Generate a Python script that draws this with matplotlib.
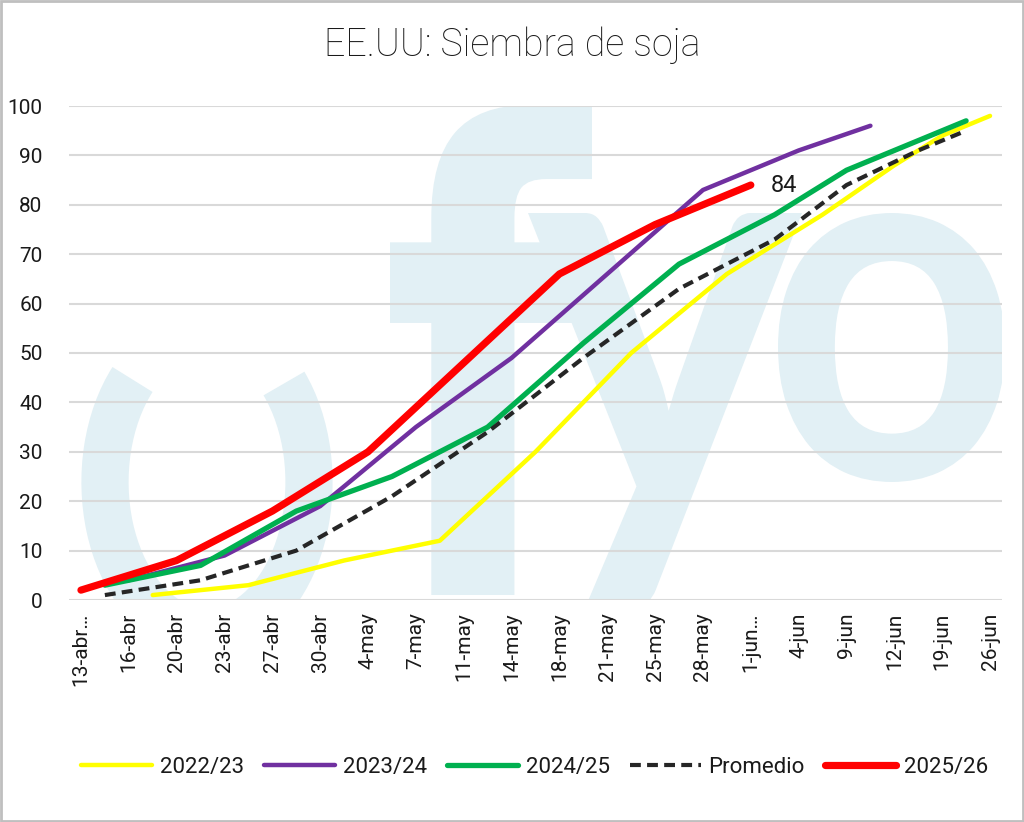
import matplotlib
matplotlib.use("Agg")
import matplotlib.pyplot as plt
from matplotlib.font_manager import FontProperties
from matplotlib.patches import Arc, PathPatch, Rectangle
from matplotlib.textpath import TextPath
from matplotlib.transforms import Affine2D, IdentityTransform

plt.rcParams["font.family"] = ["Roboto", "DejaVu Sans"]

W, H, DPI = 1024, 822, 100

# eje de categorias: union de las fechas semanales de las cuatro campañas
CATEGORIAS = [
    "13-abr…", "14-abr", "16-abr", "17-abr", "20-abr", "21-abr", "23-abr", "24-abr",
    "27-abr", "28-abr", "30-abr", "1-may", "4-may", "5-may", "7-may", "8-may",
    "11-may", "12-may", "14-may", "15-may", "18-may", "19-may", "21-may", "22-may",
    "25-may", "26-may", "28-may", "29-may", "1-jun…", "2-jun", "4-jun", "5-jun",
    "9-jun", "11-jun", "12-jun", "16-jun", "19-jun", "23-jun", "26-jun",
]

fechas_2022 = ["17-abr", "24-abr", "1-may", "8-may", "15-may", "22-may", "29-may",
               "5-jun", "12-jun", "19-jun", "26-jun"]
siembra_2022 = [1, 3, 8, 12, 30, 50, 66, 78, 88, 94, 98]

fechas_2023 = ["16-abr", "23-abr", "30-abr", "7-may", "14-may", "21-may", "28-may",
               "4-jun", "11-jun"]
siembra_2023 = [4, 9, 19, 35, 49, 66, 83, 91, 96]

fechas_2024 = ["14-abr", "21-abr", "28-abr", "5-may", "12-may", "19-may", "26-may",
               "2-jun", "9-jun", "16-jun", "23-jun"]
siembra_2024 = [3, 7, 18, 25, 35, 52, 68, 78, 87, 93, 97]
promedio = [1, 4, 10, 21, 34, 49, 63, 73, 84, 91, 95]

fechas_2025 = ["13-abr…", "20-abr", "27-abr", "4-may", "11-may", "18-may", "25-may", "1-jun…"]
siembra_2025 = [2, 8, 18, 30, 48, 66, 76, 84]

SERIES = [
    ("2022/23", fechas_2022, siembra_2022, "#ffff00", 3.2, "-"),
    ("2023/24", fechas_2023, siembra_2023, "#7030a0", 3.2, "-"),
    ("2024/25", fechas_2024, siembra_2024, "#00b050", 3.8, "-"),
    ("Promedio", fechas_2024, promedio, "#262626", 3.0, "--"),
    ("2025/26", fechas_2025, siembra_2025, "#ff0000", 5.2, "-"),
]

WATERMARK = "#e2f0f5"


def px_box_glyph(ax, char, box, prop):
    # encaja un glifo en una caja (x0, y0, x1, y1) en pixeles medidos desde arriba
    path = TextPath((0, 0), char, size=100, prop=prop)
    ext = path.get_extents()
    x0, y0, x1, y1 = box
    sx = (x1 - x0) / ext.width
    sy = (y1 - y0) / ext.height
    tr = Affine2D().translate(-ext.x0, -ext.y0).scale(sx, sy).translate(x0, H - y1)
    patch = PathPatch(tr.transform_path(path), facecolor=WATERMARK, edgecolor="none",
                      transform=IdentityTransform(), zorder=0)
    ax.add_artist(patch)
    patch.set_clip_box(ax.bbox)


def draw_watermark(ax):
    bold = FontProperties(family="Lato", weight="bold")
    px_box_glyph(ax, "f", (390, 105, 592, 595), FontProperties(family="DejaVu Sans", weight="bold"))
    px_box_glyph(ax, "y", (528, 213, 802, 605), bold)
    px_box_glyph(ax, "o", (778, 213, 1005, 482), bold)
    for t1, t2 in ((126, 262), (-82, 52)):
        arc = Arc((207, H - 482), 204, 300, theta1=t1, theta2=t2, color=WATERMARK,
                  lw=34, transform=IdentityTransform(), zorder=0, capstyle="butt")
        ax.add_artist(arc)
        arc.set_clip_box(ax.bbox)


fig = plt.figure(figsize=(W / DPI, H / DPI), dpi=DPI)
ax = fig.add_axes([69 / W, 1 - 600 / H, (1002 - 69) / W, (600 - 106) / H])
draw_watermark(ax)

for nombre, fechas, valores, color, lw, ls in SERIES:
    xs = [CATEGORIAS.index(f) for f in fechas]
    line, = ax.plot(xs, valores, color=color, lw=lw, ls=ls, label=nombre, zorder=3,
                    solid_capstyle="round", dash_capstyle="butt")
    if ls == "--":
        line.set_dashes((2.6, 1.5))

ultimo = CATEGORIAS.index(fechas_2025[-1])
ax.annotate(str(siembra_2025[-1]), (ultimo, siembra_2025[-1]), xytext=(14, 0),
            textcoords="offset points", va="center", ha="left", fontsize=17,
            color="#1a1a1a", zorder=4)

ax.set_xlim(-0.5, len(CATEGORIAS) - 0.5)
ax.set_ylim(0, 100)
ax.set_yticks(range(0, 101, 10))
ax.set_xticks(range(0, len(CATEGORIAS), 2))
ax.set_xticklabels(CATEGORIAS[::2], rotation=90, fontsize=15, color="#1a1a1a")
ax.tick_params(axis="y", labelsize=15, labelcolor="#1a1a1a", length=0, pad=19)
ax.tick_params(axis="x", length=0, pad=9)
ax.grid(axis="y", color="#d9d9d9", lw=1.5, zorder=1)
ax.set_axisbelow(True)
for spine in ax.spines.values():
    spine.set_visible(False)
ax.patch.set_alpha(0)

fig.text(0.5, 1 - 45 / H, "EE.UU: Siembra de soja", ha="center", va="center",
         fontsize=27, color="#1a1a1a", fontweight="light")

fig.legend(loc="center", bbox_to_anchor=(0.522, 1 - 767 / H), ncol=5, frameon=False,
           fontsize=16, handlelength=3.2, handletextpad=0.35, columnspacing=0.9,
           labelcolor="#1a1a1a")

fig.patches.append(Rectangle((0.001, 0.001), 0.998, 0.998, transform=fig.transFigure,
                             fill=False, edgecolor="#bfbfbf", lw=2))

fig.savefig("out.png", dpi=DPI)
